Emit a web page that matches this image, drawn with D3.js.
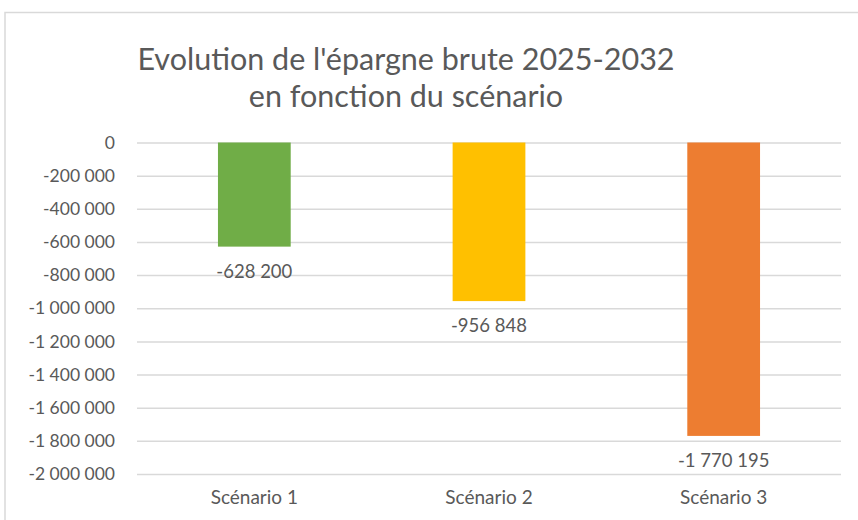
<!DOCTYPE html>
<html>
<head>
<meta charset="utf-8">
<script src="https://cdn.jsdelivr.net/npm/d3@7"></script>
<style>
  body { margin: 0; background: #fff; }
  text { font-family: Lato, "Open Sans", sans-serif; fill: #595959; }
</style>
</head>
<body>
<div id="viz"></div>
<script>
var categories = ['Scénario 1', 'Scénario 2', 'Scénario 3'];
var values = [-628200, -956848, -1770195];
var colors = ['#70AD47', '#FFC000', '#ED7D31'];
var yTicks = [0, -200000, -400000, -600000, -800000, -1000000, -1200000, -1400000, -1600000, -1800000, -2000000];
var titleLines = ["Evolution de l'épargne brute 2025-2032", "en fonction du scénario"];

var width = 858,
    height = 520,
    margin = { top: 142.5, right: 17, bottom: 46, left: 137 };

var fmt = function(v) {
  // french style: space as thousands separator, plain hyphen
  return d3.format(',')(v).replace(/,/g, ' ').replace('\u2212', '-');
};

var svg = d3.select('#viz').append('svg')
  .attr('width', width)
  .attr('height', height);

// chart border
svg.append('rect')
  .attr('x', 5)
  .attr('y', 12.5)
  .attr('width', width)
  .attr('height', height)
  .attr('fill', 'none')
  .attr('stroke', '#d9d9d9')
  .attr('stroke-width', 1.5);

var yScale = d3.scaleLinear()
  .domain([0, -2000000])
  .range([margin.top, 474]);

var xScale = d3.scaleBand()
  .domain(categories)
  .range([margin.left, width - margin.right])
  .paddingInner(0.69)
  .paddingOuter(0.345);

// gridlines
var yAxis = d3.axisLeft(yScale)
  .tickValues(yTicks)
  .tickSize(-(width - margin.right - margin.left))
  .tickPadding(22)
  .tickFormat(fmt);

var yGuide = svg.append('g')
  .attr('transform', 'translate(' + margin.left + ',0)')
  .call(yAxis);
yGuide.select('.domain').remove();
yGuide.selectAll('line').attr('stroke', '#d9d9d9').attr('stroke-width', 1.5);
yGuide.selectAll('text')
  .attr('font-size', 17.5)
  .style('font-family', 'Lato, sans-serif')
  .attr('fill', '#595959');

var xAxis = d3.axisBottom(xScale).tickSize(0).tickPadding(17);
var xGuide = svg.append('g')
  .attr('transform', 'translate(0,474)')
  .call(xAxis);
xGuide.select('.domain').remove();
xGuide.selectAll('text')
  .attr('font-size', 19)
  .style('font-family', 'Lato, sans-serif')
  .attr('fill', '#595959');

// bars
svg.append('g').selectAll('rect')
  .data(values)
  .enter().append('rect')
    .attr('x', function(d, i) { return xScale(categories[i]); })
    .attr('width', xScale.bandwidth())
    .attr('y', yScale(0))
    .attr('height', function(d) { return yScale(d) - yScale(0); })
    .attr('fill', function(d, i) { return colors[i]; });

// value labels
svg.append('g').selectAll('text')
  .data(values)
  .enter().append('text')
    .attr('x', function(d, i) { return xScale(categories[i]) + xScale.bandwidth() / 2; })
    .attr('y', function(d) { return yScale(d) + 31; })
    .attr('text-anchor', 'middle')
    .attr('font-size', 18.5)
    .text(fmt);

// title
svg.append('g').selectAll('text')
  .data(titleLines)
  .enter().append('text')
    .attr('x', 406)
    .attr('y', function(d, i) { return 70 + i * 37; })
    .attr('text-anchor', 'middle')
    .attr('font-size', 30.5)
    .text(function(d) { return d; });
</script>
</body>
</html>
